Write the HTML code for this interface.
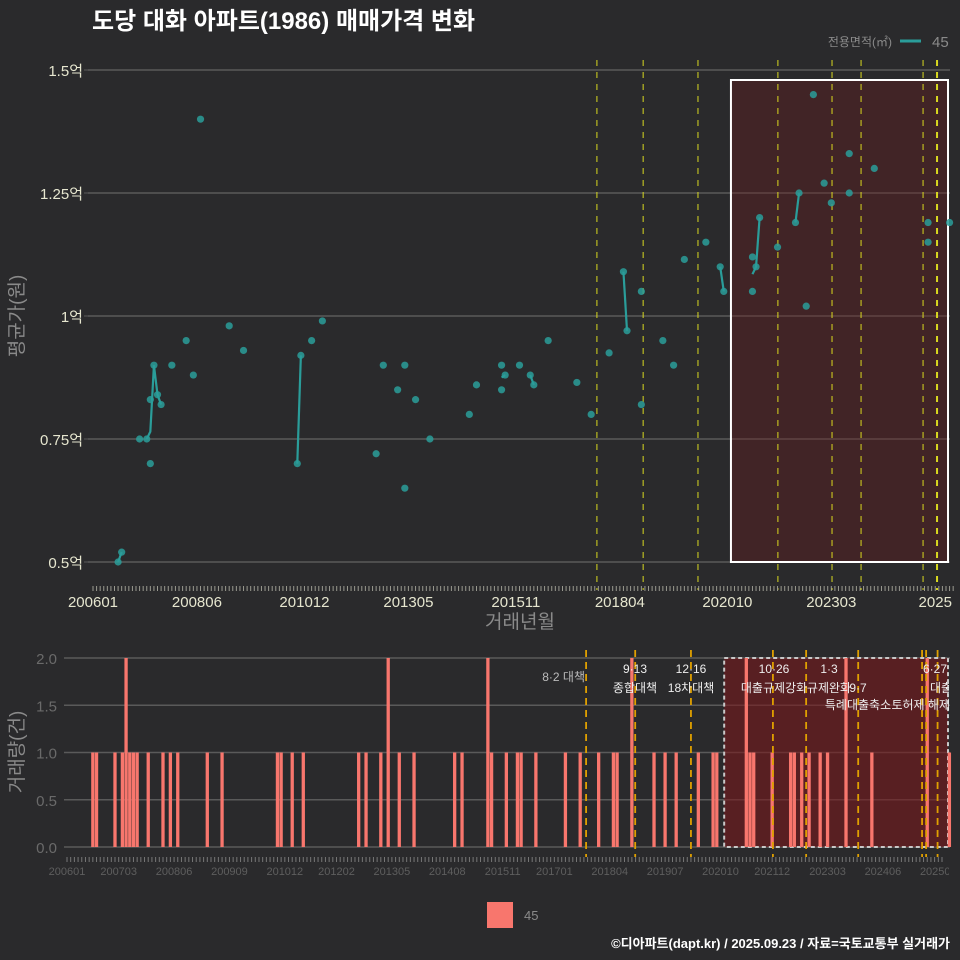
<!DOCTYPE html>
<html><head><meta charset="utf-8">
<style>
html,body{margin:0;padding:0;background:#2a2a2c;}
svg{display:block;font-family:"Liberation Sans","Noto Sans CJK KR",sans-serif;}
</style></head>
<body>
<svg id="chart" width="960" height="960" viewBox="0 0 960 960" xmlns="http://www.w3.org/2000/svg">
<rect x="0" y="0" width="960" height="960" fill="#2a2a2c"/>
<text x="92" y="29" fill="#ffffff" font-size="24" font-weight="bold">도당 대화 아파트(1986) 매매가격 변화</text>
<g>
<text x="892" y="46" fill="#8a8a8a" font-size="12" text-anchor="end">전용면적(㎡)</text>
<line x1="900" y1="41" x2="921" y2="41" stroke="#2a9d9a" stroke-width="3"/>
<text x="932" y="47" fill="#8a8a8a" font-size="15">45</text>
</g>
<g id="topPanel"></g>
<g id="botPanel"></g>
<text x="520" y="628" fill="#8a8a8a" font-size="19" text-anchor="middle">거래년월</text>
<text transform="translate(23,316) rotate(-90)" fill="#8a8a8a" font-size="19" text-anchor="middle">평균가(원)</text>
<text transform="translate(23,752) rotate(-90)" fill="#8a8a8a" font-size="19" text-anchor="middle">거래량(건)</text>
<g>
<rect x="487" y="902" width="26" height="26" fill="#f8766d"/>
<text x="524" y="920" fill="#8a8a8a" font-size="13">45</text>
</g>
<text x="950" y="948" fill="#ffffff" font-size="13" font-weight="bold" text-anchor="end">©디아파트(dapt.kr) / 2025.09.23 / 자료=국토교통부 실거래가</text>
</svg>
<script>
// trade data (month index from 2006-01, price in 억)
const tradeMonths = [7,8,13,15,16,16,17,18,19,22,26,28,30,38,42,57,58,61,64,79,81,85,87,87,90,94,105,107,114,114,115,119,122,123,127,135,139,144,148,149,153,153,159,162,165,171,175,176,184,184,185,186,191,196,197,199,201,204,206,211,211,218,233,233,239];
const tradePrices = [0.50,0.52,0.75,0.75,0.70,0.83,0.90,0.84,0.82,0.90,0.95,0.88,1.40,0.98,0.93,0.70,0.92,0.95,0.99,0.72,0.90,0.85,0.90,0.65,0.83,0.75,0.80,0.86,0.90,0.85,0.88,0.90,0.88,0.86,0.95,0.865,0.80,0.925,1.09,0.97,1.05,0.82,0.95,0.90,1.115,1.15,1.10,1.05,1.05,1.12,1.10,1.20,1.14,1.19,1.25,1.02,1.45,1.27,1.23,1.33,1.25,1.30,1.15,1.19,1.19];
const volMonths = [7,8,13,15,16,17,18,19,22,26,28,30,38,42,57,58,61,64,79,81,85,87,90,94,105,107,114,115,119,122,123,127,135,139,144,148,149,153,159,162,165,171,175,176,184,185,186,191,196,197,199,201,204,206,211,218,233,239];
const volCounts = [1,1,1,1,2,1,1,1,1,1,1,1,1,1,1,1,1,1,1,1,1,2,1,1,1,1,2,1,1,1,1,1,1,1,1,1,1,2,1,1,1,1,1,1,2,1,1,1,1,1,1,1,1,1,2,1,2,1];
const priceTicks = [0.5,0.75,1,1.25,1.5];
const priceTickLabels = ["0.5억","0.75억","1억","1.25억","1.5억"];
const volTicks = [0,0.5,1,1.5,2];
const volTickLabels = ["0.0","0.5","1.0","1.5","2.0"];
const topXTickMonths = [0,29,59,88,118,147,177,206,235];
const topXTickLabels = ["200601","200806","201012","201305","201511","201804","202010","202303","2025"];
const botXTickMonths = [0,14,29,44,59,73,88,103,118,132,147,162,177,191,206,221,236];
const botXTickLabels = ["200601","200703","200806","200909","201012","201202","201305","201408","201511","201701","201804","201907","202010","202112","202303","202406","202509"];
const topEventMonths = [140.6,153.5,168.8,191.1,206.2,214.3,231.6,235.5];
const botEventMonths = [140.6,153.9,169.0,191.2,200.2,214.3,231.6,232.7,235.8];

const NS="http://www.w3.org/2000/svg";
function mk(tag,attrs,parent,text){const e=document.createElementNS(NS,tag);for(const k in attrs)e.setAttribute(k,attrs[k]);if(text!==undefined)e.textContent=text;parent.appendChild(e);return e;}
const xTop=m=>93+m*3.584;
const yTop=v=>70+(1.5-v)*492;
const xBot=m=>67+m*3.692;
const yBot=v=>847-v*94.5;

const topG=document.getElementById('topPanel');
const botG=document.getElementById('botPanel');

priceTicks.forEach((t,i)=>{
  const g=mk('line',{x1:88,x2:950,y1:yTop(t),y2:yTop(t),stroke:'#5a5a5a','stroke-width':1.5},topG);
  
  
  const tk=mk('line',{x1:84,x2:88,y1:yTop(t),y2:yTop(t),stroke:'#5a5a5a'},topG);
  
  
  const l=mk('text',{x:83,y:yTop(t)+6,fill:'#e6e6cf','font-size':15,'text-anchor':'end'},topG,priceTickLabels[i]);
  
  
});
const hl=mk('rect',{x:xTop(178),y:80,width:948-xTop(178),height:482,fill:'rgba(110,25,30,0.35)',stroke:'#ffffff','stroke-width':2},topG);


topEventMonths.forEach((m,i)=>{
  const l=mk('line',{x1:xTop(m),x2:xTop(m),y1:60,y2:590,stroke:'#d8d820','stroke-width':i===7?2:1,'stroke-dasharray':'6,6'},topG);
  
  
});
for(let m=0;m<=240;m++){
  const t=mk('line',{x1:xTop(m),x2:xTop(m),y1:586,y2:591,stroke:'#9a9a90','stroke-width':1},topG);
  
  
}
topXTickMonths.forEach((m,i)=>{
  const t=mk('text',{x:xTop(m),y:607,fill:'#e6e6cf','font-size':15,'text-anchor':'middle'},topG,topXTickLabels[i]);
  
  
});
const avg={};
tradeMonths.forEach((m,i)=>{if(!avg[m])avg[m]=[];avg[m].push(tradePrices[i]);});
const ms=Object.keys(avg).map(Number).sort((a,b)=>a-b);
const mean=m=>avg[m].reduce((a,b)=>a+b,0)/avg[m].length;
let seg=[];
function flush(){if(seg.length>1){const p=mk('polyline',{points:seg.map(m=>xTop(m)+','+yTop(mean(m))).join(' '),fill:'none',stroke:'#2a9d9a','stroke-width':2.2},topG);
  
  }seg=[];}
ms.forEach(m=>{if(seg.length&&m-seg[seg.length-1]!==1)flush();seg.push(m);});
flush();
tradeMonths.forEach((m,i)=>{
  const c=mk('circle',{cx:xTop(m),cy:yTop(tradePrices[i]),r:3.6,fill:'#2a9d9a','fill-opacity':0.85},topG);
  
  
});

volTicks.forEach((t,i)=>{
  const g=mk('line',{x1:64,x2:950,y1:yBot(t),y2:yBot(t),stroke:'#5a5a5a','stroke-width':1.5},botG);
  
  
  const l=mk('text',{x:57,y:yBot(t)+6,fill:'#6a6a6a','font-size':15,'text-anchor':'end'},botG,volTickLabels[i]);
  
  
});
const hb=mk('rect',{x:xBot(178),y:658,width:948-xBot(178),height:189,fill:'rgba(120,25,28,0.6)',stroke:'#c8c8c8','stroke-width':2,'stroke-dasharray':'4,3'},botG);


volMonths.forEach((m,i)=>{
  const b=mk('rect',{x:xBot(m)-1.65,y:yBot(volCounts[i]),width:3.3,height:yBot(0)-yBot(volCounts[i]),fill:'#f8766d'},botG);
  
  
});
botEventMonths.forEach(m=>{
  const l=mk('line',{x1:xBot(m),x2:xBot(m),y1:650,y2:857,stroke:'#e0a000','stroke-width':1.8,'stroke-dasharray':'7,5'},botG);
  
  
});
for(let m=0;m<=237;m++){
  const t=mk('line',{x1:xBot(m),x2:xBot(m),y1:857,y2:862,stroke:'#777','stroke-width':1},botG);
  
  
}
const clip=mk('clipPath',{id:'cl'},botG);mk('rect',{x:0,y:0,width:949,height:960},clip);
const lg=mk('g',{'clip-path':'url(#cl)'},botG);
botXTickMonths.forEach((m,i)=>{
  const t=mk('text',{x:xBot(m),y:875,fill:'#5e5e5e','font-size':11,'text-anchor':'middle'},lg,botXTickLabels[i]);
  
  
});
const notes=[
 ["8·2 대책",585,681,'end','#bbbbbb'],["9·13",635,673,'middle','#eee'],["종합대책",635,692,'middle','#eee'],
 ["12·16",691,673,'middle','#eee'],["18차대책",691,692,'middle','#eee'],
 ["10·26",774,673,'middle','#eee'],["대출규제강화",774,692,'middle','#eee'],
 ["1·3",829,673,'middle','#eee'],["규제완화",829,692,'middle','#eee'],
 ["9·7",858,692,'middle','#eee'],["특례대출축소",858,709,'middle','#eee'],["토허제 해제",950,709,'end','#eee'],
 ["6·27",935,673,'middle','#eee'],["대출규제",930,692,'start','#eee']];
notes.forEach(n=>{
  const t=mk('text',{x:n[1],y:n[2],fill:n[4],'font-size':12,'text-anchor':n[3]},lg,n[0]);
  
  
});
</script>
</body></html>
